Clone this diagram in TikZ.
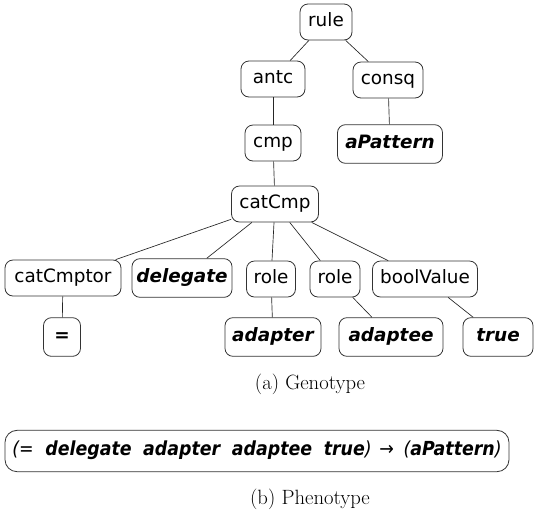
\documentclass[tikz,border=0pt]{standalone}
\usepackage{fontspec}
\newfontfamily\treefont{DejaVu Sans}
\newfontfamily\phenofont{DejaVu Sans Condensed}

\begin{document}
\begin{tikzpicture}[x=0.75pt, y=-0.75pt,
    box/.style={draw=black!80, line width=0.6pt, rounded corners=6pt,
      font=\treefont\fontsize{13.8}{16}\selectfont,
      inner xsep=0pt, inner ysep=7pt, text height=10pt, text depth=3pt},
    term/.style={box, font=\treefont\fontsize{13.8}{16}\selectfont\bfseries\itshape,
      inner ysep=8pt},
    wd/.style={minimum width=#1*0.75pt},
    edge/.style={draw=black!85, line width=0.5pt},
    caption/.style={font=\fontsize{15.5}{18}\selectfont}]
    \useasboundingbox (0,0) rectangle (534,515);
    % genotype tree
    \node[box,wd=52]   (rule)   at (326,22)  {rule};
    \node[box,wd=64]   (antc)   at (273,79)  {antc};
    \node[box,wd=70]   (consq)  at (388,80)  {consq};
    \node[box,wd=56]   (cmp)    at (273,143) {cmp};
    \node[term,wd=105] (apat)   at (390,144) {aPattern};
    \node[box,wd=87]   (catcmp) at (275,204) {catCmp};
    \node[box,wd=116]  (cator)  at (63,278)  {catCmptor};
    \node[term,wd=100] (deleg)  at (182,278) {delegate};
    \node[box,wd=49]   (roleA)  at (271,279) {role};
    \node[box,wd=50]   (roleB)  at (335,279) {role};
    \node[box,wd=105]  (boolv)  at (425,279) {boolValue};
    \node[term,wd=37]  (eq)     at (62,337)  {=};
    \node[term,wd=96]  (adptr)  at (273,337) {adapter};
    \node[term,wd=104] (adptee) at (391,337) {adaptee};
    \node[term,wd=70]  (true)   at (498,337) {true};
    \draw[edge] (rule) -- (antc);
    \draw[edge] (rule) -- (consq);
    \draw[edge] (antc) -- (cmp);
    \draw[edge] (consq) -- (apat);
    \draw[edge] (cmp) -- (catcmp);
    \foreach \kid in {cator,deleg,roleA,roleB,boolv}
      \draw[edge] (catcmp) -- (\kid);
    \draw[edge] (cator) -- (eq);
    \draw[edge] (roleA) -- (adptr);
    \draw[edge] (roleB) -- (adptee);
    \draw[edge] (boolv) -- (true);
    \node[caption] (capa) at (310,384) {(a) Genotype};
    % phenotype
    \node[box,wd=504,inner ysep=9pt,rounded corners=9pt,
      font=\phenofont\fontsize{14.5}{17}\selectfont\itshape] (pheno) at (257,451)
      {(=\hspace{0.6em}\textbf{delegate\hspace{0.6em}adapter\hspace{0.6em}adaptee\hspace{0.6em}true})\hspace{0.4em}{\upshape→}\hspace{0.5em}(\textbf{aPattern})};
    \node[caption] (capb) at (310,499) {(b) Phenotype};
\end{tikzpicture}
\end{document}
